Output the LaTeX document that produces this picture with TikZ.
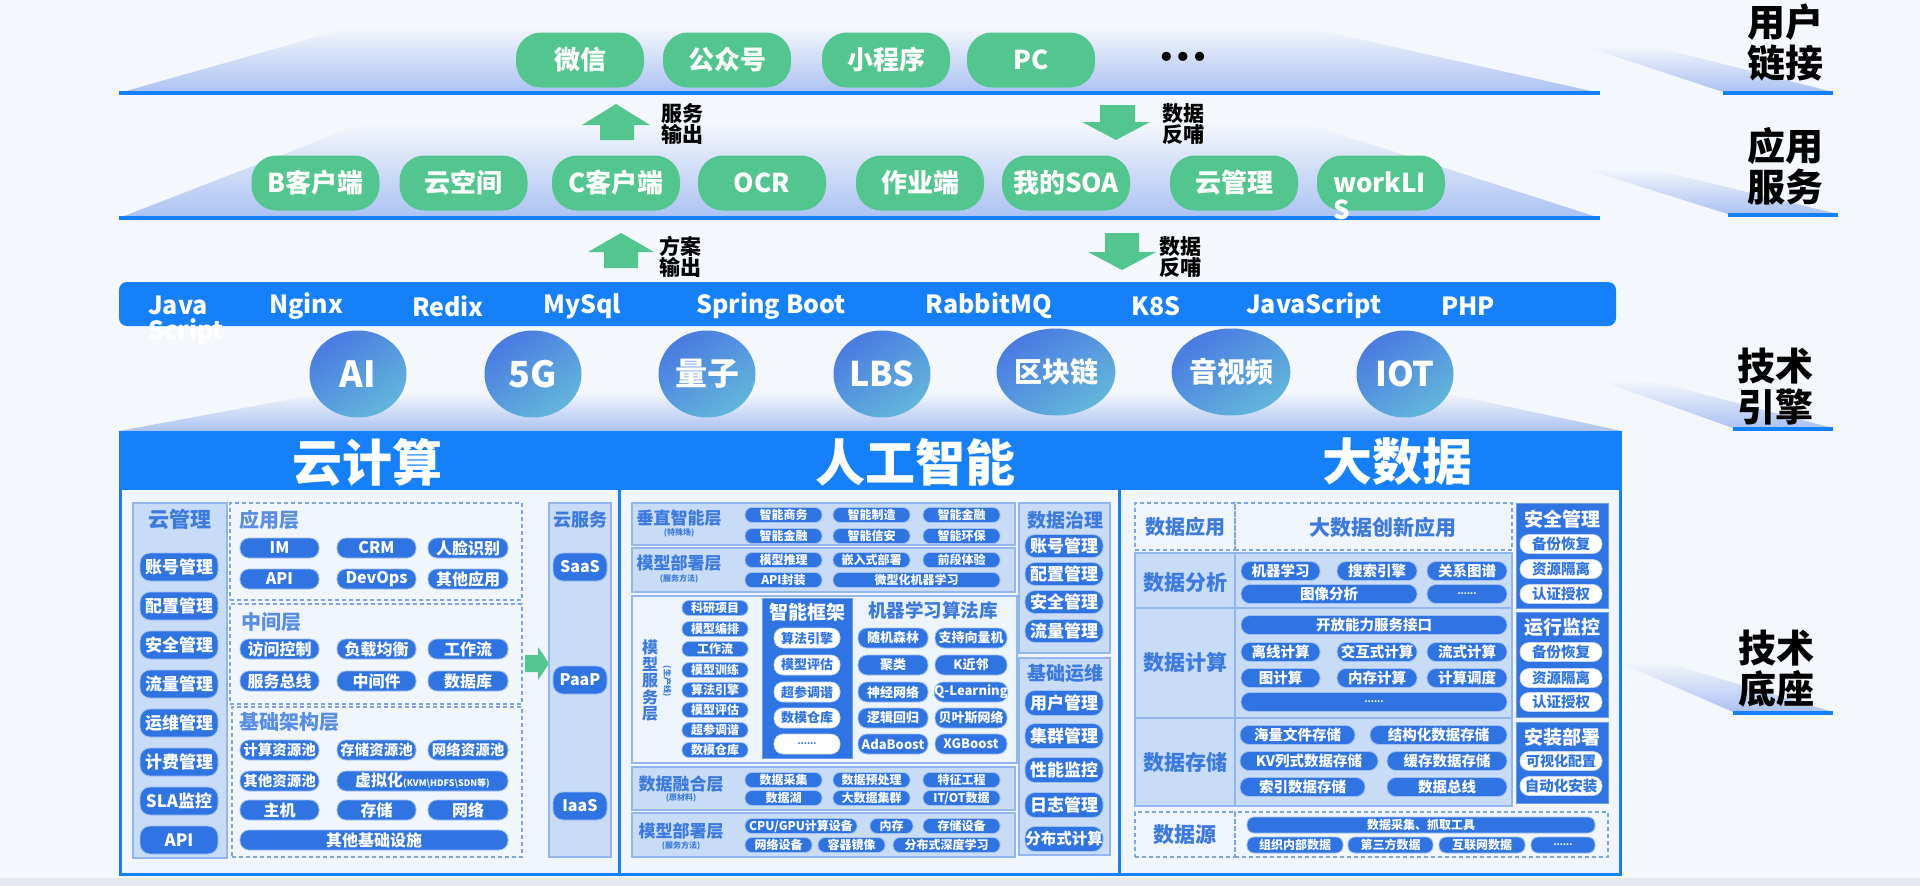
\documentclass[tikz,border=0pt]{standalone}
\usepackage{fontspec}
\setmainfont{Noto Sans CJK SC}
\newfontfamily\dvfont{DejaVu Sans}
\usetikzlibrary{shapes.geometric}
\definecolor{bg}{HTML}{F4F7FC}
\definecolor{hb}{HTML}{1580FA}
\definecolor{bb}{HTML}{2F74E2}
\definecolor{lf}{HTML}{C8DBF7}
\definecolor{lb}{HTML}{93B6EE}
\definecolor{tb}{HTML}{3C7ADF}
\definecolor{pf}{HTML}{F1F5FD}
\definecolor{pftwo}{HTML}{EEF4FD}
\definecolor{gr}{HTML}{53C68F}
\definecolor{dbl}{HTML}{7EA6E6}
\definecolor{gb}{HTML}{ABC2F2}
\definecolor{cone}{HTML}{4A7AE2}
\definecolor{ctwo}{HTML}{62B6DA}
\definecolor{gband}{HTML}{E6E8ED}
\newcommand\fsz[1]{\fontsize{#1}{#1}\selectfont}
\newcommand\mybx[7]{\node[#1, minimum width={(#4-#3)*1pt}, minimum height={#6*1pt}] (#2) at ({(#3+#4)/2},#5) {#7};}
\newcommand\mybxr[6]{\node[#1, inner sep=0pt, minimum width={(#5-#3)*1pt}, minimum height={(#6-#4)*1pt}] (#2) at ({(#3+#5)/2},{(#4+#6)/2}) {};}
\tikzset{
 base/.style={inner sep=0pt, font=\bfseries},
 pill/.style={base, fill=gr, text=white, rounded corners=25pt, minimum width=128pt, minimum height=55pt, font=\fsz{26}\bfseries},
 btn/.style={base, fill=bb, text=white, draw=bb!45!white, line width=0.8pt, rounded corners=#1},
 btn/.default=8pt,
 wbtn/.style={base, fill=white, text=bb, draw=bb!30!white, line width=0.6pt, rounded corners=#1},
 wbtn/.default=8pt,
 lbox/.style={fill=lf, draw=lb, line width=1.2pt},
 lboxtwo/.style={fill=pftwo, draw=lb, line width=1.2pt},
 dkbox/.style={fill=bb, draw=bb!70!white, line width=1pt},
 dbox/.style={draw=dbl, dash pattern=on 4pt off 3pt, line width=1.6pt},
 ttl/.style={base, text=tb},
 lbl/.style={base, text=black, align=center},
 cbtn/.style={btn=10pt, font=\fsz{17}\bfseries},
 abtn/.style={btn=9pt, font=\fsz{16}\bfseries},
 afbtn/.style={btn=9pt, font=\fsz{14.5}\bfseries},
 sbtn/.style={btn=7pt, font=\fsz{12}\bfseries},
 mbtn/.style={btn=9pt, font=\fsz{13}\bfseries},
 gbtn/.style={btn=10pt, font=\fsz{17}\bfseries},
 bbtn/.style={btn=9pt, font=\fsz{14.5}\bfseries},
 srcbtn/.style={btn=7pt, font=\fsz{12}\bfseries},
 tech/.style={base, text=white, font=\fsz{25}\bfseries},
 circ/.style={ellipse, inner sep=0pt, minimum width=97pt, minimum height=87pt, top color=cone, bottom color=ctwo, shading angle=35, text=white, font=\bfseries},
 rlabel/.style={lbl, font=\fontsize{38}{41}\selectfont\bfseries},
 alabel/.style={lbl, font=\fontsize{21}{21}\selectfont\bfseries},
}
\begin{document}
\begin{tikzpicture}[x=1pt,y=-1pt]
\useasboundingbox (0,0) rectangle (1920,886);
\fill[bg] (0,0) rectangle (1920,886);
\fill[gband] (0,878) rectangle (1920,886);

% ---------- layer 1: user link ----------
\shade[top color=bg, bottom color=gb] (119,93) -- (352,27) -- (1305,27) -- (1600,93) -- cycle;
\fill[hb] (119,91) rectangle (1600,95);
\node[pill] (p1) at (580,60) {微信};
\node[pill] (p2) at (727,60) {公众号};
\node[pill] (p3) at (886,60) {小程序};
\node[pill] (p4) at (1031,60) {PC};
\node[base, font=\dvfont\fsz{26}\bfseries] (pdots) at (1183,59) {•••};

% ---------- layer 2: app services ----------
\shade[top color=bg, bottom color=gb] (119,218) -- (364,123) -- (1305,123) -- (1600,218) -- cycle;
\fill[hb] (119,216) rectangle (1600,220);
\node[pill] (q1) at (315.5,183) {B客户端};
\node[pill] (q2) at (463.5,183) {云空间};
\node[pill] (q3) at (616,183) {C客户端};
\node[pill] (q4) at (762,183) {OCR};
\node[pill] (q5) at (920,183) {作业端};
\node[pill] (q6) at (1066,183) {我的SOA};
\node[pill] (q7) at (1234,183) {云管理};
\node[pill] (q8) at (1381,183) {};
\node[base, text=white, align=left, anchor=west, font=\fontsize{26}{27}\selectfont\bfseries] (q8t) at (1333,196) {workLI\\S};

% ---------- right side labels ----------
\shade[top color=bg, bottom color=gb] (1581,45) -- (1660,48) -- (1833,92) -- (1723,92) -- cycle;
\fill[hb] (1723,91) rectangle (1833,95);
\node[rlabel] (r1) at (1785,43) {用户\\链接};
\shade[top color=bg, bottom color=gb] (1581,168) -- (1660,171) -- (1838,214) -- (1728,214) -- cycle;
\fill[hb] (1728,213) rectangle (1838,217);
\node[rlabel] (r2) at (1785,166) {应用\\服务};
\shade[top color=bg, bottom color=gb] (1598,380) -- (1660,383) -- (1833,428) -- (1733,428) -- cycle;
\fill[hb] (1733,427) rectangle (1833,431);
\node[rlabel] (r3) at (1775,387) {技术\\引擎};
\shade[top color=bg, bottom color=gb] (1616,661) -- (1670,664) -- (1833,712) -- (1733,712) -- cycle;
\fill[hb] (1733,711) rectangle (1833,715);
\node[rlabel] (r4) at (1776,669) {技术\\底座};

% ---------- block arrows ----------
\fill[gr] (582,125) -- (616,104) -- (650,125) -- (634,125) -- (634,140) -- (600,140) -- (600,125) -- cycle;
\node[alabel] (al1) at (682,124) {服务\\输出};
\fill[gr] (1100,105) -- (1135,105) -- (1135,122) -- (1150,122) -- (1116,140) -- (1082,122) -- (1100,122) -- cycle;
\node[alabel] (al2) at (1183,124) {数据\\反哺};
\fill[gr] (588,252) -- (621,233) -- (654,252) -- (638,252) -- (638,268) -- (604,268) -- (604,252) -- cycle;
\node[alabel] (al3) at (680,257) {方案\\输出};
\fill[gr] (1105,233) -- (1139,233) -- (1139,252) -- (1156,252) -- (1122,270) -- (1088,252) -- (1105,252) -- cycle;
\node[alabel] (al4) at (1180,257) {数据\\反哺};

% ---------- tech bar ----------
\shade[top color=bg, bottom color=gb] (119,431) -- (330,392) -- (1440,392) -- (1622,431) -- cycle;
\node[fill=hb, rounded corners=8pt, inner sep=0pt, minimum width=1497pt, minimum height=44pt] (bar) at (867.5,304) {};
\node[tech, align=left, anchor=west, font=\fontsize{25}{25}\selectfont\bfseries] (tj) at (148,320) {Java\\Script};
\node[tech] (t2) at (306,306) {Nginx};
\node[tech] (t3) at (448,306) {Redix};
\node[tech] (t4) at (582,306) {MySql};
\node[tech] (t5) at (771,306) {Spring Boot};
\node[tech] (t6) at (989,306) {RabbitMQ};
\node[tech] (t7) at (1156,306) {K8S};
\node[tech] (t8) at (1314,306) {JavaScript};
\node[tech] (t9) at (1468,306) {PHP};

% ---------- tech circles ----------
\node[circ, font=\fsz{36}\bfseries] (c1) at (358,374) {AI};
\node[circ, font=\fsz{36}\bfseries] (c2) at (533,374) {5G};
\node[circ, font=\fsz{32}\bfseries] (c3) at (707,374) {量子};
\node[circ, font=\fsz{34}\bfseries] (c4) at (882,374) {LBS};
\node[circ, font=\fsz{28}\bfseries] (c5) at (1056,372) {区块链};
\node[circ, font=\fsz{28}\bfseries] (c6) at (1231,372) {音视频};
\node[circ, font=\fsz{34}\bfseries] (c7) at (1405,374) {IOT};

% ---------- base header and frame ----------
\fill[hb] (119,431) rectangle (1622,490);
\fill[pf] (119,490) rectangle (1622,876);
\draw[hb, line width=3pt] (120.5,490) -- (120.5,874.5) -- (1620.5,874.5) -- (1620.5,490);
\draw[hb, line width=3pt] (619,490) -- (619,875);
\draw[hb, line width=3pt] (1119,490) -- (1119,875);
\node[base, text=white, font=\fsz{50}\bfseries] (h1) at (367,462) {云计算};
\node[base, text=white, font=\fsz{50}\bfseries] (h2) at (915,462) {人工智能};
\node[base, text=white, font=\fsz{50}\bfseries] (h3) at (1397,462) {大数据};

% ================= cloud computing =================
\mybxr{lbox}{yg}{133}{503}{227}{858}
\node[ttl, font=\fsz{21}\bfseries] (ygt) at (180,520) {云管理};
\foreach \t/\y [count=\i] in {账号管理/567, 配置管理/606, 安全管理/645, 流量管理/684, 运维管理/723, 计费管理/762, SLA监控/801, API/840}
  {\mybx{cbtn}{ygb\i}{140}{218}{\y}{28}{\t}}

\mybxr{dbox}{yy}{230}{503}{522}{600}
\mybxr{dbox}{zj}{230}{604}{522}{704}
\mybxr{dbox}{jc}{232}{707}{522}{857}
\node[ttl, anchor=west, font=\fsz{20}\bfseries, text=tb!85!white] (yyt) at (239,520) {应用层};
\node[ttl, anchor=west, font=\fsz{20}\bfseries, text=tb!85!white] (zjt) at (241,622) {中间层};
\node[ttl, anchor=west, font=\fsz{20}\bfseries, text=tb!85!white] (jct) at (239,722) {基础架构层};
\foreach \a/\b/\c/\y [count=\i] in {IM/CRM/人脸识别/548, API/DevOps/其他应用/579, 访问控制/负载均衡/工作流/649, 服务总线/中间件/数据库/681, 主机/存储/网络/810}
  {\mybx{abtn}{ya\i}{240}{319}{\y}{20}{\a}
   \mybx{abtn}{yb\i}{337}{416}{\y}{20}{\b}
   \mybx{abtn}{yc\i}{428}{508}{\y}{20}{\c}}
\mybx{afbtn}{jc1}{240}{319}{750}{20}{计算资源池}
\mybx{afbtn}{jc2}{337}{416}{750}{20}{存储资源池}
\mybx{afbtn}{jc3}{428}{508}{750}{20}{网络资源池}
\mybx{afbtn}{jc4}{240}{319}{781}{20}{其他资源池}
\mybx{abtn}{jc5}{337}{508}{781}{20}{虚拟化{\fsz{9}(KVM\textbackslash HDFS\textbackslash SDN等)}}
\mybx{abtn}{jc6}{240}{508}{840}{20}{其他基础设施}

\fill[gr] (525,655) -- (538,655) -- (538,647) -- (549,663.5) -- (538,680) -- (538,672) -- (525,672) -- cycle;

\mybxr{lbox}{yfw}{549}{503}{611}{857}
\node[ttl, font=\fsz{18}\bfseries] (yfwt) at (580,520) {云服务};
\mybx{cbtn, font=\fsz{16}\bfseries}{saas}{553}{607}{567}{28}{SaaS}
\mybx{cbtn, font=\fsz{16}\bfseries}{paap}{553}{607}{680}{28}{PaaP}
\mybx{cbtn, font=\fsz{16}\bfseries}{iaas}{553}{607}{806}{28}{IaaS}

% ================= AI =================
\mybxr{lbox}{cz}{632}{503}{1015}{545}
\mybxr{lbox}{bsa}{632}{548}{1015}{592}
\mybxr{lboxtwo}{fw}{632}{596}{1017}{763}
\mybxr{lbox}{rh}{632}{767}{1015}{810}
\mybxr{lbox}{bsb}{632}{813}{1015}{857}
\node[ttl, font=\fsz{17}\bfseries] (czt) at (679,518) {垂直智能层};
\node[ttl, font=\fsz{8}\bfseries] (czs) at (679,533) {(特殊场)};
\node[ttl, font=\fsz{17}\bfseries] (bsat) at (679,563) {模型部署层};
\node[ttl, font=\fsz{8}\bfseries] (bsas) at (679,579) {(服务方法)};
\node[ttl, font=\fsz{17}\bfseries] (rht) at (681,784) {数据融合层};
\node[ttl, font=\fsz{8}\bfseries] (rhs) at (681,798) {(原材料)};
\node[ttl, font=\fsz{17}\bfseries] (bsbt) at (681,831) {模型部署层};
\node[ttl, font=\fsz{8}\bfseries] (bsbs) at (681,846) {(服务方法)};

\foreach \a/\b/\c/\y [count=\i] in {智能商务/智能制造/智能金融/515, 智能金融/智能信安/智能环保/536, 模型推理/嵌入式部署/前段体验/560, 数据采集/数据预处理/特征工程/780}
  {\mybx{sbtn}{aa\i}{745}{822}{\y}{15}{\a}
   \mybx{sbtn}{ab\i}{833}{910}{\y}{15}{\b}
   \mybx{sbtn}{ac\i}{923}{1000}{\y}{15}{\c}}
\mybx{sbtn}{ad1}{745}{822}{580}{15}{API封装}
\mybx{sbtn}{ad2}{833}{1000}{580}{15}{微型化机器学习}
\mybx{sbtn}{ad3}{745}{822}{798}{15}{数据湖}
\mybx{sbtn}{ad4}{833}{910}{798}{15}{大数据集群}
\mybx{sbtn}{ad5}{923}{1000}{798}{15}{IT/OT数据}
\mybx{sbtn}{ae1}{745}{857}{826}{15}{CPU/GPU计算设备}
\mybx{sbtn}{ae2}{870}{913}{826}{15}{内存}
\mybx{sbtn}{ae3}{923}{1000}{826}{15}{存储设备}
\mybx{sbtn}{ae4}{745}{812}{845}{15}{网络设备}
\mybx{sbtn}{ae5}{818}{885}{845}{15}{容器镜像}
\mybx{sbtn}{ae6}{893}{1000}{845}{15}{分布式深度学习}

\node[ttl, align=center, font=\fontsize{16}{16.5}\selectfont\bfseries] (fwt) at (650,681) {模\\型\\服\\务\\层};
\node[ttl, rotate=-90, font=\fsz{8}\bfseries] (fws) at (667,681) {(生产线)};
\foreach \t/\y [count=\i] in {科研项目/608, 模型编排/629, 工作流/649, 模型训练/670, 算法引擎/690, 模型评估/710, 超参调谐/730, 数模仓库/750}
  {\mybx{sbtn}{fl\i}{682}{748}{\y}{15}{\t}}

\mybxr{dkbox}{kj}{762}{598}{852}{758}
\node[base, text=white, font=\fsz{19}\bfseries] (kjt) at (807,612) {智能框架};
\foreach \t/\y [count=\i] in {算法引擎/638, 模型评估/665, 超参调谐/692, 数模仓库/718}
  {\mybx{wbtn=9pt, font=\fsz{13}\bfseries}{kb\i}{774}{840}{\y}{20}{\t}}
\mybx{wbtn=9pt, font=\fsz{9}\bfseries}{kb5}{774}{840}{744}{20}{......}

\node[ttl, font=\fsz{18.5}\bfseries] (mlt) at (933,610) {机器学习算法库};
\foreach \a/\b/\y [count=\i] in {随机森林/支持向量机/638, 聚类/K近邻/665, 神经网络/Q-Learning/692, 逻辑回归/贝叶斯网络/718, AdaBoost/XGBoost/744}
  {\mybx{mbtn}{mla\i}{858}{928}{\y}{20}{\a}
   \mybx{mbtn}{mlb\i}{935}{1007}{\y}{20}{\b}}

\mybxr{lbox}{zl}{1019}{503}{1110}{653}
\node[ttl, font=\fsz{19}\bfseries] (zlt) at (1065,520) {数据治理};
\foreach \t/\y [count=\i] in {账号管理/546, 配置管理/574, 安全管理/602, 流量管理/631}
  {\mybx{gbtn}{zlb\i}{1025}{1103}{\y}{23}{\t}}
\mybxr{lbox}{yw}{1019}{658}{1110}{855}
\node[ttl, font=\fsz{19}\bfseries] (ywt) at (1065,673) {基础运维};
\foreach \t/\y [count=\i] in {用户管理/703, 集群管理/736, 性能监控/770, 日志管理/805}
  {\mybx{gbtn}{ywb\i}{1025}{1103}{\y}{25}{\t}}
\mybx{gbtn, font=\fsz{15.5}\bfseries}{ywb5}{1025}{1103}{839}{25}{分布式计算}

% ================= big data =================
\mybxr{dbox}{sya}{1135}{503}{1235}{550}
\mybxr{dbox}{syb}{1235}{503}{1512}{550}
\node[ttl, font=\fsz{20}\bfseries] (syat) at (1185,527) {数据应用};
\node[ttl, font=\fsz{21}\bfseries] (sybt) at (1383,527) {大数据创新应用};

\mybxr{lbox}{fxa}{1135}{553}{1235}{608}
\mybxr{lbox}{fxb}{1235}{553}{1512}{608}
\mybxr{lbox}{jsa}{1135}{608}{1235}{718}
\mybxr{lbox}{jsb}{1235}{608}{1512}{718}
\mybxr{lbox}{cca}{1135}{718}{1235}{806}
\mybxr{lbox}{ccb}{1235}{718}{1512}{806}
\node[ttl, font=\fsz{21}\bfseries] (fxt) at (1185,583) {数据分析};
\node[ttl, font=\fsz{21}\bfseries] (jst) at (1185,662) {数据计算};
\node[ttl, font=\fsz{21}\bfseries] (cct) at (1185,763) {数据存储};

\foreach \a/\b/\c/\y [count=\i] in {机器学习/搜索引擎/关系图谱/571, 离线计算/交互式计算/流式计算/652, 图计算/内存计算/计算调度/678}
  {\mybx{bbtn}{ba\i}{1241}{1320}{\y}{19}{\a}
   \mybx{bbtn}{bb\i}{1337}{1417}{\y}{19}{\b}
   \mybx{bbtn}{bc\i}{1427}{1507}{\y}{19}{\c}}
\mybx{bbtn}{bd1}{1241}{1417}{594}{19}{图像分析}
\mybx{bbtn, font=\fsz{9}\bfseries}{bd2}{1427}{1507}{594}{19}{......}
\mybx{bbtn}{bd3}{1241}{1507}{625}{19}{开放能力服务接口}
\mybx{bbtn, font=\fsz{9}\bfseries}{bd4}{1241}{1507}{702}{19}{......}
\mybx{bbtn}{be1}{1240}{1355}{735}{19}{海量文件存储}
\mybx{bbtn}{be2}{1370}{1507}{735}{19}{结构化数据存储}
\mybx{bbtn}{be3}{1240}{1378}{761}{19}{KV列式数据存储}
\mybx{bbtn}{be4}{1387}{1507}{761}{19}{缓存数据存储}
\mybx{bbtn}{be5}{1240}{1365}{787}{19}{索引数据存储}
\mybx{bbtn}{be6}{1387}{1507}{787}{19}{数据总线}

\mybxr{dkbox}{aq}{1516}{503}{1608}{608}
\mybxr{dkbox}{yx}{1516}{612}{1608}{717}
\mybxr{dkbox}{az}{1516}{722}{1608}{803}
\node[base, text=white, font=\fsz{19}\bfseries] (aqt) at (1562,519) {安全管理};
\node[base, text=white, font=\fsz{19}\bfseries] (yxt) at (1562,627) {运行监控};
\node[base, text=white, font=\fsz{19}\bfseries] (azt) at (1562,737) {安装部署};
\foreach \t/\y [count=\i] in {备份恢复/544, 资源隔离/569, 认证授权/594, 备份恢复/652, 资源隔离/678, 认证授权/702, 自动化安装/786}
  {\mybx{wbtn=9pt, font=\fsz{14.5}\bfseries}{wq\i}{1520}{1602}{\y}{19}{\t}}
\mybx{wbtn=9pt, font=\fsz{14}\bfseries}{wq8}{1520}{1602}{761}{19}{可视化配置}

\mybxr{dbox}{sra}{1135}{812}{1235}{857}
\mybxr{dbox}{srb}{1235}{812}{1608}{857}
\node[ttl, font=\fsz{21}\bfseries] (srt) at (1185,835) {数据源};
\mybx{srcbtn}{sr1}{1247}{1595}{825}{16}{数据采集、抓取工具}
\mybx{srcbtn}{sr2}{1247}{1343}{845}{16}{组织内部数据}
\mybx{srcbtn}{sr3}{1348}{1433}{845}{16}{第三方数据}
\mybx{srcbtn}{sr4}{1439}{1525}{845}{16}{互联网数据}
\mybx{srcbtn, font=\fsz{9}\bfseries}{sr5}{1531}{1595}{845}{16}{......}
\end{tikzpicture}
\end{document}
